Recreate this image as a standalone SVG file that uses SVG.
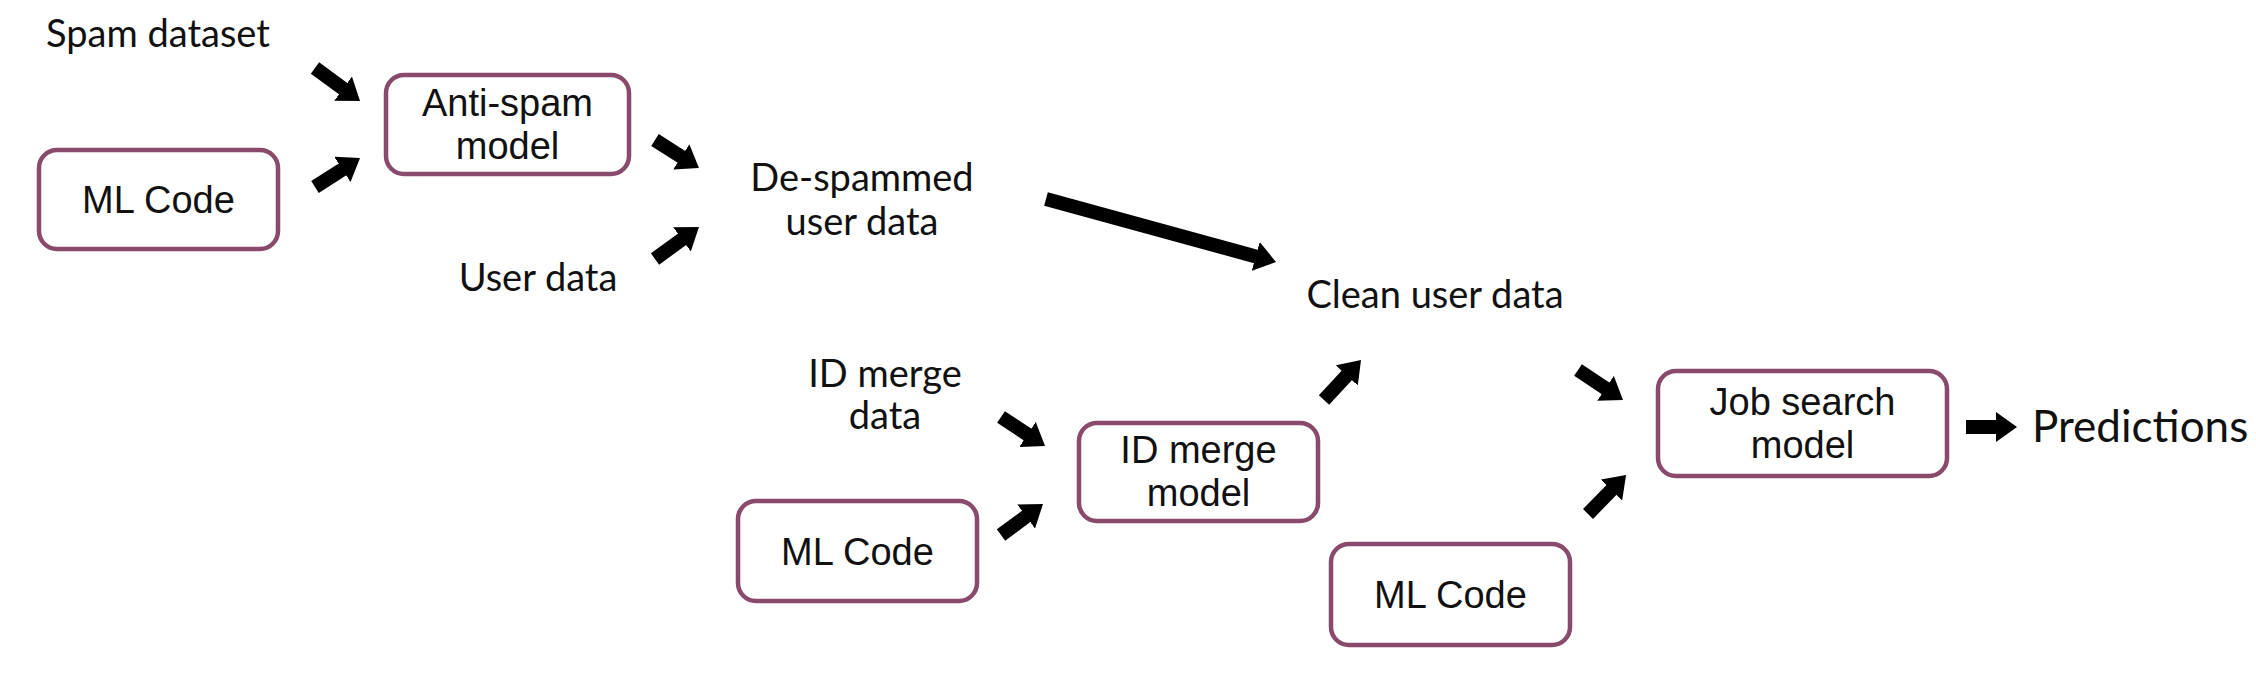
<svg xmlns="http://www.w3.org/2000/svg" width="2256" height="673" viewBox="0 0 2256 673">
<style>
.box{fill:#fff;stroke:#8a4a6c;stroke-width:4.5}
.bt{font-family:"Liberation Sans",Arial,sans-serif;font-size:38px;fill:#111;text-anchor:middle}
.lt{font-family:Lato,"Open Sans",sans-serif;font-size:38px;fill:#111;text-anchor:middle}
.ar{stroke:#000;stroke-width:14;fill:none;marker-end:url(#ah)}
</style>
<defs>
<marker id="ah" markerUnits="userSpaceOnUse" viewBox="0 0 21 30" markerWidth="21" markerHeight="30" refX="3" refY="15" orient="auto">
<path d="M0,0 L21,15 L0,30 Z" fill="#000"/>
</marker>
</defs>
<rect width="2256" height="673" fill="#fff"/>

<g id="spam-dataset"><text class="lt" x="158" y="47">Spam dataset</text></g>
<g id="ml-code-1"><rect class="box" x="39" y="150" width="239" height="99" rx="18"/><text class="bt" x="158.5" y="213">ML Code</text></g>
<g id="anti-spam-model"><rect class="box" x="386" y="75" width="243" height="99" rx="18"/><text class="bt" x="507.5" y="116">Anti-spam</text><text class="bt" x="507.5" y="159">model</text></g>
<g id="user-data"><text class="lt" x="538" y="291">User data</text></g>
<g id="de-spammed"><text class="lt" x="862" y="191">De-spammed</text><text class="lt" x="862" y="235">user data</text></g>
<g id="clean-user-data"><text class="lt" x="1435" y="308">Clean user data</text></g>
<g id="id-merge-data"><text class="lt" x="885" y="387">ID merge</text><text class="lt" x="885" y="429">data</text></g>
<g id="id-merge-model"><rect class="box" x="1079" y="423" width="239" height="98" rx="18"/><text class="bt" x="1198.5" y="463">ID merge</text><text class="bt" x="1198.5" y="506">model</text></g>
<g id="ml-code-2"><rect class="box" x="738" y="501" width="239" height="100" rx="18"/><text class="bt" x="857.5" y="565">ML Code</text></g>
<g id="ml-code-3"><rect class="box" x="1331" y="544" width="239" height="101" rx="18"/><text class="bt" x="1450.5" y="608">ML Code</text></g>
<g id="job-search-model"><rect class="box" x="1658" y="371" width="289" height="105" rx="18"/><text class="bt" x="1802.5" y="415">Job search</text><text class="bt" x="1802.5" y="458">model</text></g>
<g id="predictions"><text class="lt" x="2032" y="442" style="font-size:44px;text-anchor:start">Predictions</text></g>

<g id="connectors">
<line class="ar" x1="315" y1="68" x2="345.5" y2="90.4"/>
<line class="ar" x1="315" y1="187" x2="344.9" y2="167.8"/>
<line class="ar" x1="655" y1="140" x2="683.8" y2="158.4"/>
<line class="ar" x1="655" y1="259" x2="684.4" y2="237.6"/>
<line class="ar" x1="1046" y1="199" x2="1258.6" y2="257.2"/>
<line class="ar" x1="1001" y1="417" x2="1030" y2="436.1"/>
<line class="ar" x1="1001" y1="535" x2="1028.5" y2="514.7"/>
<line class="ar" x1="1324" y1="400" x2="1348.8" y2="373.2"/>
<line class="ar" x1="1578" y1="370" x2="1608" y2="390"/>
<line class="ar" x1="1588" y1="514" x2="1613.5" y2="487.9"/>
<line class="ar" x1="1966" y1="427" x2="1999" y2="427"/>
</g>
</svg>
